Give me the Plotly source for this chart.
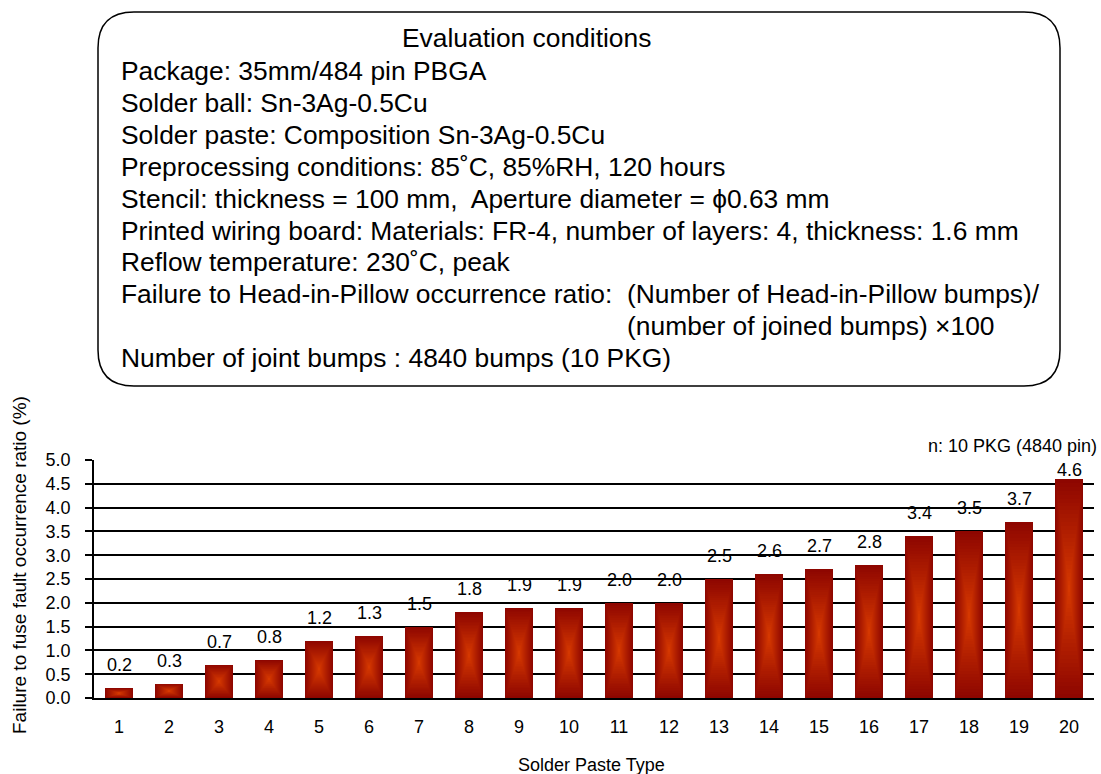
import plotly.graph_objects as go

# --- data -------------------------------------------------------------
paste_types = list(range(1, 21))
paste_labels = [str(i) for i in paste_types]
fault_ratio = [0.2, 0.3, 0.7, 0.8, 1.2, 1.3, 1.5, 1.8, 1.9, 1.9,
               2.0, 2.0, 2.5, 2.6, 2.7, 2.8, 3.4, 3.5, 3.7, 4.6]
y_ticks = [0.0, 0.5, 1.0, 1.5, 2.0, 2.5, 3.0, 3.5, 4.0, 4.5, 5.0]

condition_lines = [
    "Package: 35mm/484 pin PBGA",
    "Solder ball: Sn-3Ag-0.5Cu",
    "Solder paste: Composition Sn-3Ag-0.5Cu",
    "Preprocessing conditions: 85˚C, 85%RH, 120 hours",
    "Stencil: thickness = 100 mm,  Aperture diameter = ϕ0.63 mm",
    "Printed wiring board: Materials: FR-4, number of layers: 4, thickness: 1.6 mm",
    "Reflow temperature: 230˚C, peak",
    "Failure to Head-in-Pillow occurrence ratio:  (Number of Head-in-Pillow bumps)/",
]
ratio_cont = "(number of joined bumps) ×100"
last_line = "Number of joint bumps : 4840 bumps (10 PKG)"

# --- page geometry (pixels) --------------------------------------------
W, H = 1101, 774
L, R, T, B = 94, 7, 460, 76
PW, PH = W - L - R, H - T - B
FONT = "Arial, Liberation Sans, sans-serif"


def px_x(px):
    return (px - L) / PW


def px_y(py):
    return (H - B - py) / PH


fig = go.Figure()

# Path-style gradient: nested bars shrinking toward each bar's centre
edge = (142, 6, 0)
center = (216, 58, 0)
n_layers = 28
bar_w = 0.55
for k in range(n_layers):
    f = 1 - k / n_layers
    t = 1 - f
    c = tuple(round(e + (cc - e) * t) for e, cc in zip(edge, center))
    fig.add_trace(go.Bar(
        x=paste_types,
        y=[v * f for v in fault_ratio],
        base=[v * (1 - f) / 2 for v in fault_ratio],
        width=bar_w * f,
        marker=dict(color="rgb(%d,%d,%d)" % c, line=dict(width=0)),
        hoverinfo="skip",
        showlegend=False,
    ))

# value labels above bars (kept below the top of the frame)
unit_px = PH / 5.0
for xv, v in zip(paste_types, fault_ratio):
    top_px = H - B - v * unit_px
    label_px = max(top_px - 23, 470)
    fig.add_annotation(
        x=xv, y=px_y(label_px), xref="x", yref="paper",
        text="%.1f" % v, showarrow=False, yanchor="middle",
        font=dict(family=FONT, size=18, color="black"),
    )

# frame of conditions
x0, x1, y0, y1, r = 98, 1060, 12, 386, 36
path = (
    f"M {px_x(x0 + r)} {px_y(y0)} L {px_x(x1 - r)} {px_y(y0)} "
    f"Q {px_x(x1)} {px_y(y0)} {px_x(x1)} {px_y(y0 + r)} "
    f"L {px_x(x1)} {px_y(y1 - r)} "
    f"Q {px_x(x1)} {px_y(y1)} {px_x(x1 - r)} {px_y(y1)} "
    f"L {px_x(x0 + r)} {px_y(y1)} "
    f"Q {px_x(x0)} {px_y(y1)} {px_x(x0)} {px_y(y1 - r)} "
    f"L {px_x(x0)} {px_y(y0 + r)} "
    f"Q {px_x(x0)} {px_y(y0)} {px_x(x0 + r)} {px_y(y0)} Z"
)
fig.add_shape(type="path", path=path, xref="paper", yref="paper",
              line=dict(color="black", width=1.5), fillcolor="rgba(0,0,0,0)")

box_font = dict(family=FONT, size=26.4, color="black")
fig.add_annotation(x=px_x(526), y=px_y(38), xref="paper", yref="paper",
                   text="Evaluation conditions", showarrow=False,
                   xanchor="center", yanchor="middle", font=box_font)
line_step = 31.9
for i, txt in enumerate(condition_lines):
    fig.add_annotation(x=px_x(119), y=px_y(71 + i * line_step),
                       xref="paper", yref="paper", text=txt, showarrow=False,
                       xanchor="left", yanchor="middle", font=box_font)
fig.add_annotation(x=px_x(997), y=px_y(71 + 8 * line_step),
                   xref="paper", yref="paper", text=ratio_cont, showarrow=False,
                   xanchor="right", yanchor="middle", font=box_font)
fig.add_annotation(x=px_x(119), y=px_y(71 + 9 * line_step),
                   xref="paper", yref="paper", text=last_line, showarrow=False,
                   xanchor="left", yanchor="middle", font=box_font)

# sample note, axis titles
fig.add_annotation(x=px_x(1099), y=px_y(446), xref="paper", yref="paper",
                   text="n: 10 PKG (4840 pin)", showarrow=False,
                   xanchor="right", yanchor="middle",
                   font=dict(family=FONT, size=18, color="black"))
fig.add_annotation(x=px_x(19), y=px_y(565), xref="paper", yref="paper",
                   text="Failure to fuse fault occurrence ratio (%)",
                   showarrow=False, textangle=-90,
                   xanchor="center", yanchor="middle",
                   font=dict(family=FONT, size=19, color="black"))
fig.add_annotation(x=px_x(591), y=px_y(765), xref="paper", yref="paper",
                   text="Solder Paste Type", showarrow=False,
                   xanchor="center", yanchor="middle",
                   font=dict(family=FONT, size=18, color="black"))

fig.update_layout(
    width=W, height=H,
    margin=dict(l=L, r=R, t=T, b=B, pad=0),
    paper_bgcolor="white", plot_bgcolor="white",
    barmode="overlay", bargap=0,
    font=dict(family=FONT, size=18, color="black"),
    xaxis=dict(
        range=[0.5, 20.5], tickvals=paste_types, ticktext=paste_labels,
        showgrid=False, zeroline=False, showline=True,
        linecolor="black", linewidth=1.5, ticks="",
        tickfont=dict(family=FONT, size=18), ticklabelstandoff=12,
    ),
    yaxis=dict(
        range=[0, 5], tickvals=y_ticks,
        ticktext=["%.1f" % v for v in y_ticks],
        showgrid=True, gridcolor="black", gridwidth=1.5,
        showline=True, linecolor="black", linewidth=1.5,
        ticks="outside", ticklen=7, tickcolor="black", tickwidth=1.5,
        tickfont=dict(family=FONT, size=18), zeroline=False,
        ticklabelstandoff=11,
    ),
)

fig.write_html("out.html")
